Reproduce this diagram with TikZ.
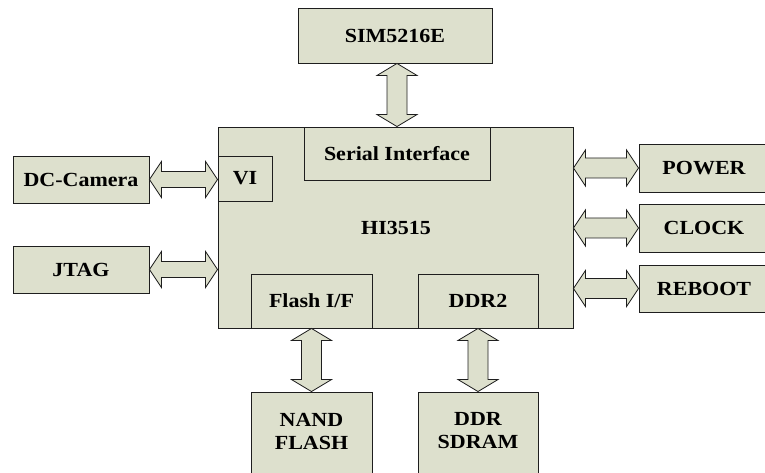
\documentclass[tikz,border=0pt]{standalone}
\usepackage{fontspec}
\usetikzlibrary{calc}
\setmainfont{Liberation Serif}[FakeStretch=1.1]
\definecolor{boxfill}{RGB}{221,224,205}
\definecolor{linec}{RGB}{30,30,30}
\tikzset{
  blk/.style={draw=linec, fill=boxfill, line width=0.9bp, inner sep=0pt, anchor=center,
    font=\fontsize{20bp}{23bp}\selectfont\bfseries, align=center},
  arr/.style={draw=linec, fill=boxfill, line width=0.8bp, line join=miter},
}
% horizontal block arrow: #1 left x-source, #2 right x-source, #3 y-source, #4 shaft half, #5 head half
\newcommand\myharrow[5]{%
  \draw[arr] let \p1=(#1), \p2=(#2), \p3=(#3) in
    (\x1,\y3) -- (\x1+12bp,\y3+#5) -- (\x1+12bp,\y3+#4) -- (\x2-12bp,\y3+#4) -- (\x2-12bp,\y3+#5)
    -- (\x2,\y3) -- (\x2-12bp,\y3-#5) -- (\x2-12bp,\y3-#4) -- (\x1+12bp,\y3-#4) -- (\x1+12bp,\y3-#5) -- cycle;}
% vertical block arrow: #1 top y-source, #2 bottom y-source, #3 x-source
\newcommand\myvarrow[5]{%
  \draw[arr] let \p1=(#1), \p2=(#2), \p3=(#3) in
    (\x3,\y1) -- (\x3+#5,\y1-12bp) -- (\x3+#4,\y1-12bp) -- (\x3+#4,\y2+12bp) -- (\x3+#5,\y2+12bp)
    -- (\x3,\y2) -- (\x3-#5,\y2+12bp) -- (\x3-#4,\y2+12bp) -- (\x3-#4,\y1-12bp) -- (\x3-#5,\y1-12bp) -- cycle;}
\begin{document}
\begin{tikzpicture}[x=1bp,y=-1bp]
\useasboundingbox (0,0) rectangle (765,473);
\clip (0,0) rectangle (765,473);
% main block
\node[blk, minimum width=355bp, minimum height=201bp] (main) at (395.5,227.5) {};
\node[font=\fontsize{20bp}{23bp}\selectfont\bfseries] (hi) at (396,228) {HI3515};
\node[blk, minimum width=186bp, minimum height=53bp] (serial) at (397,153.5) {Serial Interface};
\node[blk, minimum width=54bp, minimum height=45bp] (vi) at (245,178.5) {VI};
\node[blk, minimum width=121bp, minimum height=54bp] (flash) at (311.5,301) {Flash I/F};
\node[blk, minimum width=120bp, minimum height=54bp] (ddr2) at (478,301) {DDR2};
% outer blocks
\node[blk, minimum width=194bp, minimum height=55bp] (sim) at (395,35.5) {SIM5216E};
\node[blk, minimum width=136bp, minimum height=47bp] (dc) at (81,179.5) {DC-Camera};
\node[blk, minimum width=136bp, minimum height=47bp] (jtag) at (81,269.5) {JTAG};
\node[blk, minimum width=130bp, minimum height=48bp] (power) at (704,168) {POWER};
\node[blk, minimum width=130bp, minimum height=48bp] (clock) at (704,228) {CLOCK};
\node[blk, minimum width=130bp, minimum height=47bp] (reboot) at (704,288.5) {REBOOT};
\node[blk, minimum width=121bp, minimum height=90bp] (nand) at (311.5,437) {};
\node[font=\fontsize{20bp}{23bp}\selectfont\bfseries, align=center] (nandt) at (311.5,431) {NAND\\FLASH};
\node[blk, minimum width=120bp, minimum height=90bp] (sdram) at (478,437) {};
\node[font=\fontsize{20bp}{23bp}\selectfont\bfseries, align=center] (sdramt) at (478,431) {DDR\\SDRAM};
% arrows
\myvarrow{sim.south}{serial.north}{serial.center}{10bp}{20bp}
\myvarrow{flash.south}{nand.north}{flash.center}{10bp}{20bp}
\myvarrow{ddr2.south}{sdram.north}{ddr2.center}{10bp}{20bp}
\myharrow{dc.east}{vi.west}{dc.center}{8bp}{18bp}
\myharrow{jtag.east}{main.west}{jtag.center}{8bp}{18bp}
\myharrow{main.east}{power.west}{power.center}{10bp}{18bp}
\myharrow{main.east}{clock.west}{clock.center}{10bp}{18bp}
\myharrow{main.east}{reboot.west}{reboot.center}{10bp}{18bp}
\end{tikzpicture}
\end{document}
